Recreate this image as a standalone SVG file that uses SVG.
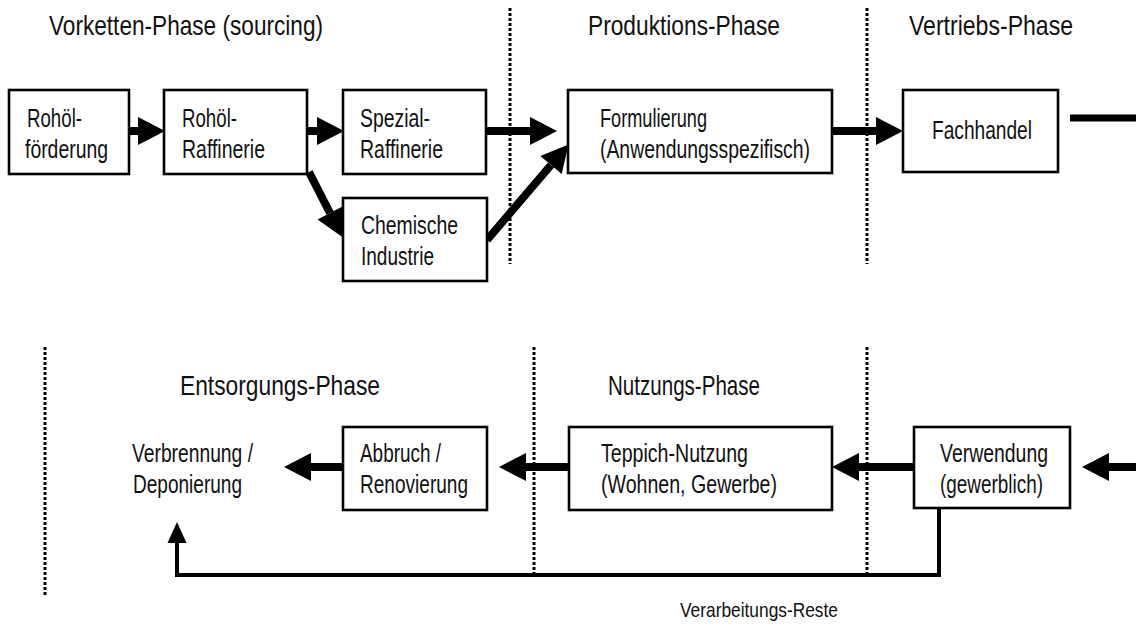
<svg xmlns="http://www.w3.org/2000/svg" width="1136" height="630" viewBox="0 0 1136 630">
<style>
text{font-family:"Liberation Sans Narrow","Arial Narrow","Liberation Sans",Arial,sans-serif;fill:#111}
.t{font-size:28px}
.b{font-size:26px}
.s{font-size:21px}
.box{fill:#fff;stroke:#000;stroke-width:2.6}
.dot{stroke:#000;stroke-width:3;stroke-dasharray:3 2;fill:none}
.ar{stroke:#000;stroke-width:8;fill:none;marker-end:url(#ah)}
.ln{stroke:#000;stroke-width:4;fill:none}
</style>
<defs>
<marker id="ah" markerUnits="userSpaceOnUse" markerWidth="28" markerHeight="30" refX="0" refY="15" orient="auto" overflow="visible">
<path d="M0,1 L27,15 L0,29 z" fill="#000"/>
</marker>
<marker id="ah2" markerUnits="userSpaceOnUse" markerWidth="22" markerHeight="20" refX="0" refY="10" orient="auto" overflow="visible">
<path d="M0,0.5 L21,10 L0,19.5 z" fill="#000"/>
</marker>
</defs>
<g id="phase-lines">
<line class="dot" x1="510" y1="8" x2="510" y2="264"/>
<line class="dot" x1="867" y1="8" x2="867" y2="264"/>
<line class="dot" x1="45" y1="347" x2="45" y2="596"/>
<line class="dot" x1="534" y1="347" x2="534" y2="574"/>
<line class="dot" x1="867" y1="347" x2="867" y2="574"/>
</g>
<g id="titles">
<text class="t" x="49" y="35" textLength="274" lengthAdjust="spacingAndGlyphs">Vorketten-Phase (sourcing)</text>
<text class="t" x="588" y="35" textLength="192" lengthAdjust="spacingAndGlyphs">Produktions-Phase</text>
<text class="t" x="909" y="35" textLength="164" lengthAdjust="spacingAndGlyphs">Vertriebs-Phase</text>
<text class="t" x="180" y="395" textLength="200" lengthAdjust="spacingAndGlyphs">Entsorgungs-Phase</text>
<text class="t" x="608" y="395" textLength="152" lengthAdjust="spacingAndGlyphs">Nutzungs-Phase</text>
</g>
<g id="connectors">
<line class="ar" x1="129" y1="131" x2="138" y2="131"/>
<line class="ar" x1="307" y1="131" x2="317" y2="131"/>
<line class="ar" x1="486" y1="131" x2="530" y2="131"/>
<line class="ar" x1="309" y1="172" x2="330" y2="213"/>
<line class="ar" x1="487" y1="240" x2="551" y2="165"/>
<line class="ar" x1="832" y1="131" x2="876" y2="131"/>
<line stroke="#000" stroke-width="7" x1="1070" y1="118" x2="1136" y2="118"/>
<line class="ar" x1="1136" y1="467" x2="1109" y2="467"/>
<line class="ar" x1="914" y1="467" x2="859" y2="467"/>
<line class="ar" x1="569" y1="467" x2="526" y2="467"/>
<line class="ar" x1="343" y1="467" x2="311" y2="467"/>
<path class="ln" d="M939,508 V575 H177 V543" stroke-linejoin="miter" marker-end="url(#ah2)"/>
<text class="s" x="680" y="617" textLength="158" lengthAdjust="spacingAndGlyphs">Verarbeitungs-Reste</text>
</g>
<g id="n-rohoelfoerderung">
<rect class="box" x="9" y="90" width="120" height="84"/>
<text class="b" x="27" y="127" textLength="55" lengthAdjust="spacingAndGlyphs">Rohöl-</text>
<text class="b" x="25" y="158" textLength="83" lengthAdjust="spacingAndGlyphs">förderung</text>
</g>
<g id="n-rohoelraffinerie">
<rect class="box" x="164" y="90" width="143" height="84"/>
<text class="b" x="182" y="127" textLength="55" lengthAdjust="spacingAndGlyphs">Rohöl-</text>
<text class="b" x="182" y="158" textLength="83" lengthAdjust="spacingAndGlyphs">Raffinerie</text>
</g>
<g id="n-spezialraffinerie">
<rect class="box" x="343" y="90" width="143" height="84"/>
<text class="b" x="360" y="127" textLength="70" lengthAdjust="spacingAndGlyphs">Spezial-</text>
<text class="b" x="360" y="158" textLength="83" lengthAdjust="spacingAndGlyphs">Raffinerie</text>
</g>
<g id="n-chemische">
<rect class="box" x="343" y="198" width="144" height="83"/>
<text class="b" x="361" y="234" textLength="97" lengthAdjust="spacingAndGlyphs">Chemische</text>
<text class="b" x="361" y="265" textLength="73" lengthAdjust="spacingAndGlyphs">Industrie</text>
</g>
<g id="n-formulierung">
<rect class="box" x="568" y="90" width="264" height="83"/>
<text class="b" x="600" y="127" textLength="107" lengthAdjust="spacingAndGlyphs">Formulierung</text>
<text class="b" x="600" y="158" textLength="210" lengthAdjust="spacingAndGlyphs">(Anwendungsspezifisch)</text>
</g>
<g id="n-fachhandel">
<rect class="box" x="903" y="90" width="155" height="82"/>
<text class="b" x="932" y="139" textLength="100" lengthAdjust="spacingAndGlyphs">Fachhandel</text>
</g>
<g id="n-verwendung">
<rect class="box" x="914" y="427" width="156" height="81"/>
<text class="b" x="940" y="462" textLength="108" lengthAdjust="spacingAndGlyphs">Verwendung</text>
<text class="b" x="940" y="493" textLength="103" lengthAdjust="spacingAndGlyphs">(gewerblich)</text>
</g>
<g id="n-teppich">
<rect class="box" x="569" y="427" width="263" height="83"/>
<text class="b" x="601" y="462" textLength="147" lengthAdjust="spacingAndGlyphs">Teppich-Nutzung</text>
<text class="b" x="601" y="493" textLength="176" lengthAdjust="spacingAndGlyphs">(Wohnen, Gewerbe)</text>
</g>
<g id="n-abbruch">
<rect class="box" x="343" y="427" width="144" height="83"/>
<text class="b" x="360" y="462" textLength="81" lengthAdjust="spacingAndGlyphs">Abbruch /</text>
<text class="b" x="360" y="493" textLength="108" lengthAdjust="spacingAndGlyphs">Renovierung</text>
</g>
<g id="n-verbrennung">
<text class="b" x="132" y="462" textLength="121" lengthAdjust="spacingAndGlyphs">Verbrennung /</text>
<text class="b" x="133" y="493" textLength="109" lengthAdjust="spacingAndGlyphs">Deponierung</text>
</g>
</svg>
